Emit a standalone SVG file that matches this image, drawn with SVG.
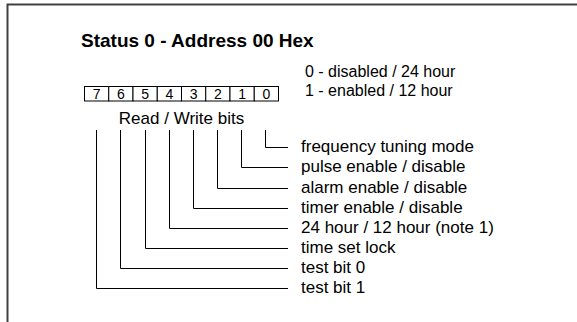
<svg xmlns="http://www.w3.org/2000/svg" width="577" height="322" viewBox="0 0 577 322">
<style>
text{font-family:"Liberation Sans",Arial,sans-serif;font-size:17px;fill:#000}
.title{font-weight:bold;font-size:19px}
.legend{font-size:16px}
.digit{font-size:14px;text-anchor:middle}
.mid{text-anchor:middle}
.cell{fill:#fff;stroke:#000;stroke-width:1}
.con{fill:none;stroke:#000;stroke-width:1}
.frame{fill:none;stroke:#404040;stroke-width:2}
</style>
<rect width="577" height="322" fill="#fff"/>
<path class="frame" d="M7.5,330 V4.5 H590"/>
<g id="title"><text class="title" x="81" y="47">Status 0 - Address 00 Hex</text></g>
<g id="legend">
<text class="legend" x="305" y="77">0 - disabled / 24 hour</text>
<text class="legend" x="305" y="96">1 - enabled / 12 hour</text>
</g>
<g id="register">
<rect class="cell" x="84.5" y="86.5" width="24.25" height="14.5"/>
<rect class="cell" x="108.75" y="86.5" width="24.25" height="14.5"/>
<rect class="cell" x="133" y="86.5" width="24.25" height="14.5"/>
<rect class="cell" x="157.25" y="86.5" width="24.25" height="14.5"/>
<rect class="cell" x="181.5" y="86.5" width="24.25" height="14.5"/>
<rect class="cell" x="205.75" y="86.5" width="24.25" height="14.5"/>
<rect class="cell" x="230" y="86.5" width="24.25" height="14.5"/>
<rect class="cell" x="254.25" y="86.5" width="24.25" height="14.5"/>
<text class="digit" x="96.6" y="99.3">7</text>
<text class="digit" x="120.9" y="99.3">6</text>
<text class="digit" x="145.1" y="99.3">5</text>
<text class="digit" x="169.4" y="99.3">4</text>
<text class="digit" x="193.6" y="99.3">3</text>
<text class="digit" x="217.9" y="99.3">2</text>
<text class="digit" x="242.1" y="99.3">1</text>
<text class="digit" x="266.4" y="99.3">0</text>
<text class="mid" x="181.5" y="124">Read / Write bits</text>
</g>
<g id="connectors">
<path class="con" d="M265.5,130 V147.5 H288"/>
<path class="con" d="M241.5,130 V167.5 H288"/>
<path class="con" d="M217.5,130 V188.5 H288"/>
<path class="con" d="M193.5,130 V208.5 H288"/>
<path class="con" d="M169.5,130 V228.5 H288"/>
<path class="con" d="M145.5,130 V248.5 H288"/>
<path class="con" d="M120.5,130 V268.5 H288"/>
<path class="con" d="M96.5,130 V288.5 H288"/>
</g>
<g id="bit0"><text x="301" y="152">frequency tuning mode</text></g>
<g id="bit1"><text x="301" y="172">pulse enable / disable</text></g>
<g id="bit2"><text x="301" y="193">alarm enable / disable</text></g>
<g id="bit3"><text x="301" y="213">timer enable / disable</text></g>
<g id="bit4"><text x="301" y="233">24 hour / 12 hour (note 1)</text></g>
<g id="bit5"><text x="301" y="253">time set lock</text></g>
<g id="bit6"><text x="301" y="273">test bit 0</text></g>
<g id="bit7"><text x="301" y="293">test bit 1</text></g>
</svg>
